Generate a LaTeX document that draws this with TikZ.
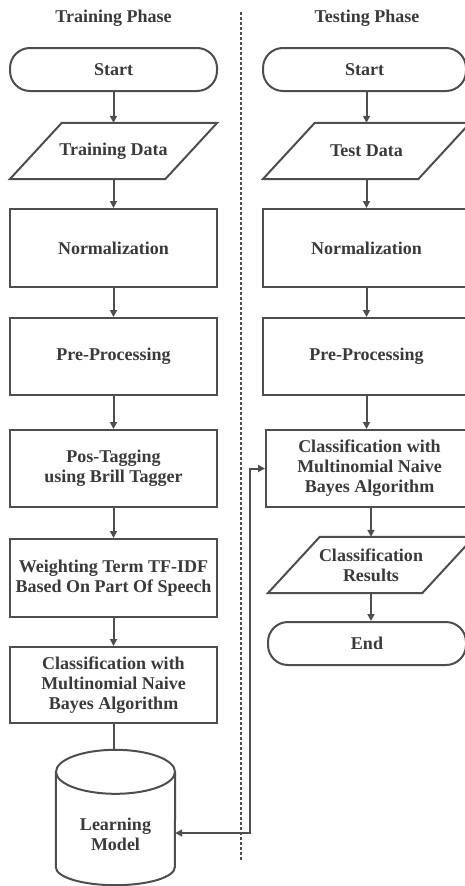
\documentclass[tikz,border=0pt]{standalone}
\usepackage{fontspec}
\setmainfont{Liberation Serif}
\usetikzlibrary{arrows.meta,calc}
\definecolor{ln}{HTML}{4E4E4E}
\definecolor{tx}{HTML}{3A3A3A}
\begin{document}
\begin{tikzpicture}[x=1pt,y=-1pt,
  base/.style={font=\bfseries\fontsize{18}{20}\selectfont, text=tx, align=center, inner sep=0pt},
  procbox/.style={base, draw=ln, line width=2pt, minimum width=207pt},
  term/.style={procbox, rounded corners=20pt, minimum height=43pt},
  iobox/.style={base, minimum width=207pt, minimum height=56pt},
  shp/.style={draw=ln, line width=2pt, line join=miter},
  arr/.style={draw=ln, line width=2pt, -{Triangle[length=7pt,width=7pt]}},
  darr/.style={draw=ln, line width=2pt, {Triangle[length=7pt,width=7pt]}-{Triangle[length=7pt,width=7pt]}},
  plain/.style={draw=ln, line width=2pt},
  sep/.style={draw=ln, line width=1.8pt, dash pattern=on 3pt off 2pt}
]
\useasboundingbox (0,0) rectangle (465,886);
\fill[white] (0,0) rectangle (465,886);

% titles
\node[base] (t1) at (113.5,18) {Training Phase};
\node[base] (t2) at (367,18) {Testing Phase};
\coordinate (s1) at (241,12);
\coordinate (s2) at (241,860);
\draw[sep] (s1) -- (s2);

% ---- training column ----
\node[term] (st1) at (113.5,69.5) {Start};
\node[iobox] (td1) at (113.5,151) {Training Data};
\draw[shp] (td1.south west) -- ([xshift=-52pt]td1.south east) -- (td1.north east) -- ([xshift=52pt]td1.north west) -- cycle;
\node[procbox, minimum height=78pt] (nm1) at (113.5,248) {Normalization};
\node[procbox, minimum height=77pt] (pp1) at (113.5,356.5) {Pre-Processing};
\node[procbox, minimum height=77pt] (pt1) at (113.5,468.5) {Pos-Tagging\\using Brill Tagger};
\node[procbox, minimum height=78pt] (wt1) at (113.5,578) {Weighting Term TF-IDF\\Based On Part Of Speech};
\node[procbox, minimum height=76pt] (cl1) at (113.5,685) {Classification with\\Multinomial Naive\\Bayes Algorithm};

% cylinder
\node[minimum width=119pt, minimum height=135pt, inner sep=0pt] (lm) at (115.5,817.5) {};
\draw[shp] ($(lm.north)+(0,22)$) ellipse [x radius=59.5pt, y radius=22pt];
\draw[shp] ($(lm.north west)+(0,22)$) -- ($(lm.south west)+(0,-18)$)
  arc[start angle=180, end angle=360, x radius=59.5pt, y radius=18pt]
  -- ($(lm.north east)+(0,22)$);
\node[base] (lmt) at ($(lm.center)+(0,16.5)$) {Learning\\Model};

\draw[arr] (st1) -- (td1);
\draw[arr] (td1) -- (nm1);
\draw[arr] (nm1) -- (pp1);
\draw[arr] (pp1) -- (pt1);
\draw[arr] (pt1) -- (wt1);
\draw[arr] (wt1) -- (cl1);
\draw[plain] (cl1.south) -- (cl1.south |- lm.north);

% ---- testing column ----
\node[term, minimum width=203pt] (st2) at (364.5,69.5) {Start};
\node[iobox] (td2) at (366.5,151) {Test Data};
\draw[shp] (td2.south west) -- ([xshift=-52pt]td2.south east) -- (td2.north east) -- ([xshift=52pt]td2.north west) -- cycle;
\node[procbox, minimum height=78pt] (nm2) at (366.5,248) {Normalization};
\node[procbox, minimum height=77pt] (pp2) at (366.5,356.5) {Pre-Processing};
\node[procbox, minimum height=77pt] (cl2) at (369.5,468.5) {Classification with\\Multinomial Naive\\Bayes Algorithm};
\node[iobox, minimum width=206pt] (cr2) at (371,565) {Classification\\Results};
\draw[shp] (cr2.south west) -- ([xshift=-52pt]cr2.south east) -- (cr2.north east) -- ([xshift=52pt]cr2.north west) -- cycle;
\node[term, minimum width=198pt] (en2) at (367,643.5) {End};

\draw[arr] (st2.south -| td2.north) -- (td2);
\draw[arr] (td2) -- (nm2);
\draw[arr] (nm2) -- (pp2);
\draw[arr] (pp2.south) -- (pp2.south |- cl2.north);
\draw[arr] (cl2.south -| cr2.north) -- (cr2);
\draw[arr] (cr2.south) -- (cr2.south |- en2.north);

% feedback connector
\coordinate (fb) at (250,833);
\draw[darr] (fb -| lm.east) -- (fb) |- (cl2.west);
\end{tikzpicture}
\end{document}
